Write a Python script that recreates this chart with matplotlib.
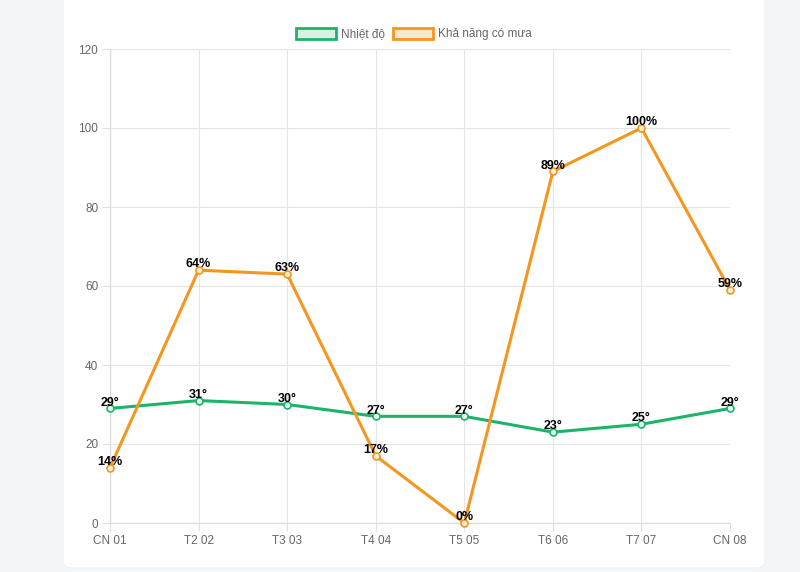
import numpy as np
import matplotlib.pyplot as plt
from matplotlib.patches import FancyBboxPatch, Patch

days = ['CN 01', 'T2 02', 'T3 03', 'T4 04', 'T5 05', 'T6 06', 'T7 07', 'CN 08']
temp = [29, 31, 30, 27, 27, 23, 25, 29]
rain = [14, 64, 63, 17, 0, 89, 100, 59]

green = '#1db46a'
orange = '#f5961f'
green_fill = '#d6f2e3'
orange_fill = '#fde8cc'

plt.rcParams['font.family'] = ['Liberation Sans', 'DejaVu Sans']

fig = plt.figure(figsize=(8, 5.72), dpi=100)
fig.patch.set_facecolor('#f3f6f8')

# white card behind the chart
card = FancyBboxPatch((63 / 800, 4 / 572), 702 / 800, 600 / 572,
                      boxstyle='round,pad=0,rounding_size=0.012',
                      transform=fig.transFigure, facecolor='white',
                      edgecolor='#eef1f3', linewidth=0.8, zorder=-5)
fig.patches.append(card)

ax = fig.add_axes([110 / 800, 49 / 572, 620 / 800, 474 / 572])
ax.set_facecolor('none')

x = np.arange(len(days))
ax.plot(x, temp, color=green, lw=2.2, marker='o', ms=5,
        mfc='#e8f7ef', mec=green, mew=1.2, zorder=3, clip_on=False)
ax.plot(x, rain, color=orange, lw=2.2, marker='o', ms=5,
        mfc='#fdf0dd', mec=orange, mew=1.2, zorder=3, clip_on=False)

for i in range(len(days)):
    ax.annotate(f'{temp[i]}°', (x[i], temp[i]), xytext=(0, 2),
                textcoords='offset points', ha='center', va='baseline',
                fontsize=9, fontweight='bold', color='black', zorder=5)
    ax.annotate(f'{rain[i]}%', (x[i], rain[i]), xytext=(0, 2),
                textcoords='offset points', ha='center', va='baseline',
                fontsize=9, fontweight='bold', color='black', zorder=5)

ax.set_xlim(0, len(days) - 1)
ax.set_ylim(0, 120)
ax.set_yticks(np.arange(0, 121, 20))
ax.set_xticks(x)
ax.set_xticklabels(days)
ax.grid(True, color='#e6e6e6', lw=0.8)
ax.set_axisbelow(True)
for s in ['top', 'right']:
    ax.spines[s].set_visible(False)
for s in ['left', 'bottom']:
    ax.spines[s].set_color('#dddddd')
    ax.spines[s].set_linewidth(0.9)
ax.tick_params(axis='both', labelcolor='#666666', color='#e0e0e0',
               labelsize=8.5, length=6, width=0.8, pad=2.5)

handles = [Patch(facecolor=green_fill, edgecolor=green, lw=2, label='Nhiệt độ'),
           Patch(facecolor=orange_fill, edgecolor=orange, lw=2, label='Khả năng có mưa')]
fig.legend(handles=handles, loc='center', bbox_to_anchor=(414 / 800, 1 - 34 / 572),
           ncol=2, frameon=False, fontsize=8.5, handlelength=3.4, handleheight=1.1,
           columnspacing=0.7, handletextpad=0.4, labelcolor='#666666')

fig.savefig('out.png', dpi=100)
